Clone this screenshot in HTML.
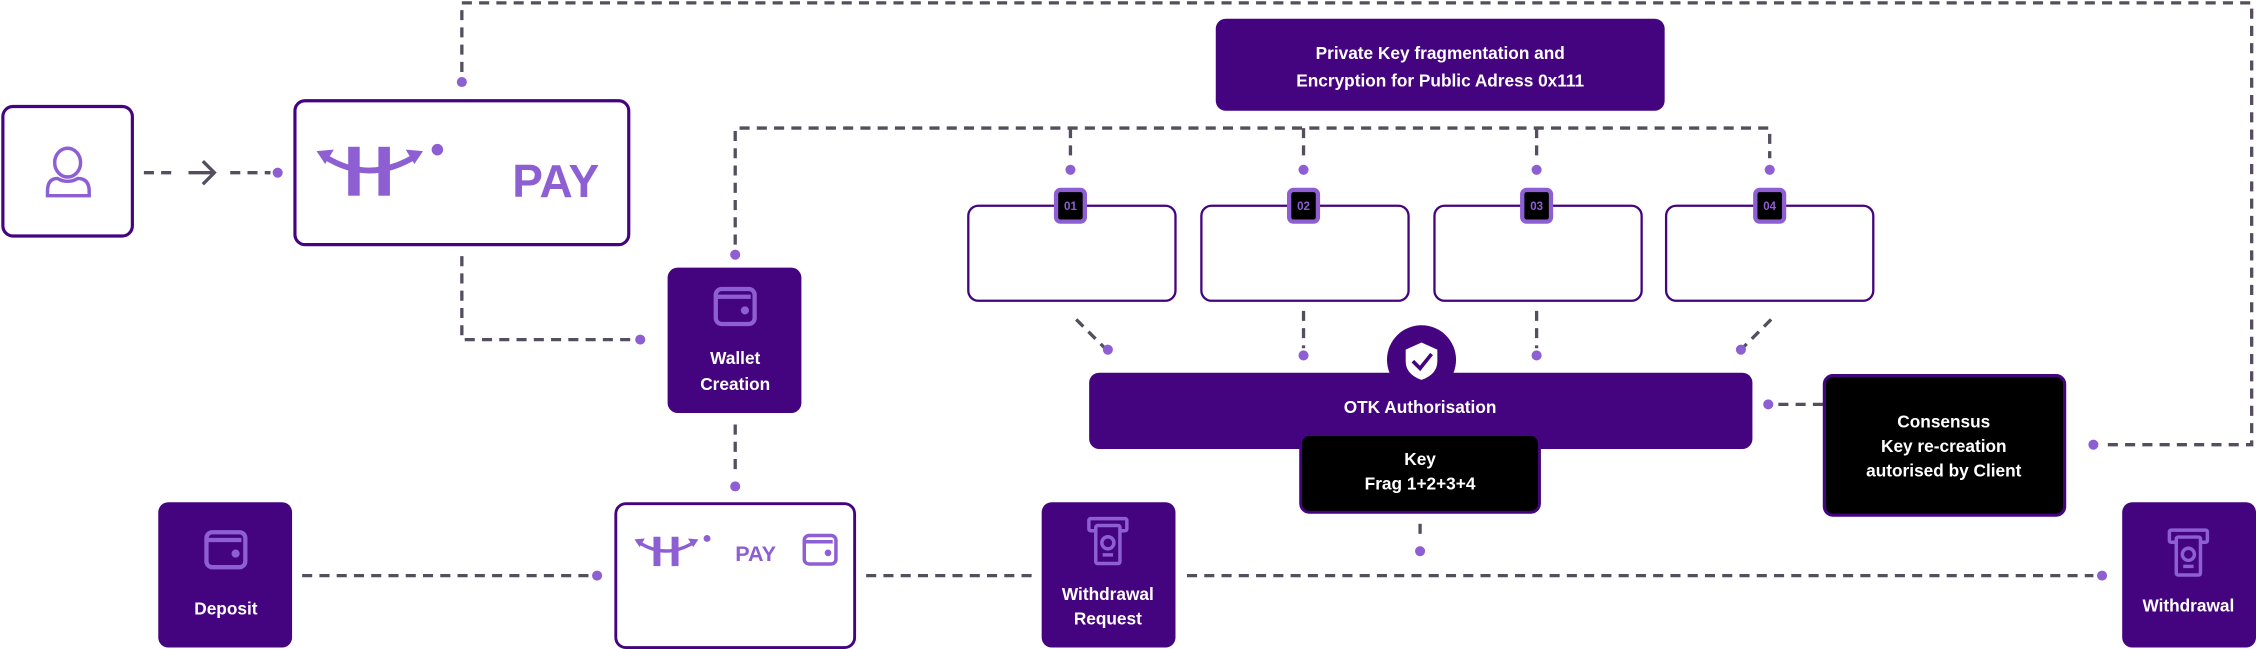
<!DOCTYPE html>
<html><head><meta charset="utf-8">
<style>
html,body{margin:0;padding:0;background:#fff;width:2256px;height:649px;overflow:hidden}
svg{display:block}
text{font-family:"Liberation Sans",sans-serif;font-weight:bold}
</style></head>
<body>
<svg width="2256" height="649" viewBox="0 0 1568 451" preserveAspectRatio="none" xmlns="http://www.w3.org/2000/svg">
<defs>
<g id="logo">
  <rect x="242" y="102" width="8" height="34" fill="#8e5fd3"/>
  <rect x="263" y="102" width="8" height="34" fill="#8e5fd3"/>
  <path d="M226,109 Q256,128 288,109" fill="none" stroke="#8e5fd3" stroke-width="4"/>
  <path d="M220,105 L232,104 L226,114 Z" fill="#8e5fd3"/>
  <path d="M294,105 L282,104 L288,114 Z" fill="#8e5fd3"/>
  <circle cx="304" cy="104" r="4" fill="#8e5fd3"/>
</g>
<g id="wallet" fill="none" stroke="#8e5fd3" stroke-width="2.2">
  <rect x="-10" y="-9" width="20" height="18" rx="3"/>
  <path d="M-9,-5 H8"/>
  <circle cx="5" cy="2" r="1" fill="#8e5fd3"/>
</g>
<g id="atm" fill="none" stroke="#8e5fd3" stroke-width="2">
  <rect x="-11" y="-13" width="22" height="7" rx="1"/>
  <rect x="-7" y="-9" width="14" height="22" rx="1" fill="#45047f"/>
  <circle cx="0" cy="1" r="3.5"/>
  <path d="M-3,8 H3"/>
</g>
</defs>

<!-- dashed connectors -->
<g fill="none" stroke="#544e5e" stroke-width="2.3" stroke-dasharray="7,5">
  <path d="M321,50 V2 H1565 V309 H1460"/>
  <path d="M100,120 H124 M160,120 H188"/>
  <path d="M321,178 V236 H440"/>
  <path d="M511,170 V89 H1230 V110"/>
  <path d="M744,89 V110 M906,89 V110 M1068,89 V110"/>
  <path d="M748,222 L768,242"/>
  <path d="M906,216 V242 M1068,216 V242"/>
  <path d="M1231,222 L1211,242"/>
  <path d="M1236,281 H1268"/>
  <path d="M987,364 V376"/>
  <path d="M511,295 V330"/>
  <path d="M210,400 H410"/>
  <path d="M602,400 H720"/>
  <path d="M825,400 H1455"/>
</g>
<path d="M131,120 H149 M141,112 L149,120 L141,128" fill="none" stroke="#544e5e" stroke-width="2.3"/>
<g fill="#8e5fd3">
  <circle cx="321" cy="57" r="3.5"/><circle cx="193" cy="120" r="3.5"/>
  <circle cx="445" cy="236" r="3.5"/><circle cx="511" cy="177" r="3.5"/>
  <circle cx="744" cy="118" r="3.5"/><circle cx="906" cy="118" r="3.5"/>
  <circle cx="1068" cy="118" r="3.5"/><circle cx="1230" cy="118" r="3.5"/>
  <circle cx="770" cy="243" r="3.5"/><circle cx="906" cy="247" r="3.5"/>
  <circle cx="1068" cy="247" r="3.5"/><circle cx="1210" cy="243" r="3.5"/>
  <circle cx="1229" cy="281" r="3.5"/><circle cx="1455" cy="309" r="3.5"/>
  <circle cx="987" cy="383" r="3.5"/><circle cx="511" cy="338" r="3.5"/>
  <circle cx="415" cy="400" r="3.5"/><circle cx="1461" cy="400" r="3.5"/>
</g>

<!-- user box -->
<rect x="2" y="74" width="90" height="90" rx="7" fill="#fff" stroke="#45047f" stroke-width="2.2"/>
<g fill="none" stroke="#8e5fd3" stroke-width="2.4">
  <ellipse cx="47" cy="113" rx="9" ry="10"/>
  <path d="M40,124 Q47,128 54,124 Q62,124 62,133 V136 H33 V133 Q33,124 40,124 Z"/>
</g>

<!-- HPAY box -->
<rect x="205" y="70" width="232" height="100" rx="7" fill="#fff" stroke="#45047f" stroke-width="2.2"/>
<use href="#logo"/>
<text x="356" y="137" font-size="32" fill="#8e5fd3">PAY</text>

<!-- Wallet creation -->
<rect x="464" y="186" width="93" height="101" rx="7" fill="#45047f"/>
<g transform="translate(511,213) scale(1.35)"><use href="#wallet"/></g>
<text x="511" y="253" font-size="12" fill="#fff" text-anchor="middle">Wallet</text>
<text x="511" y="271" font-size="12" fill="#fff" text-anchor="middle">Creation</text>

<!-- Private key box -->
<rect x="845" y="13" width="312" height="64" rx="7" fill="#45047f"/>
<text x="1001" y="41" font-size="12" fill="#fff" text-anchor="middle">Private Key fragmentation and</text>
<text x="1001" y="60" font-size="12" fill="#fff" text-anchor="middle">Encryption for Public Adress 0x111</text>

<!-- fragment boxes -->
<g fill="#fff" stroke="#45047f" stroke-width="1.6">
  <rect x="673" y="143" width="144" height="66" rx="7"/>
  <rect x="835" y="143" width="144" height="66" rx="7"/>
  <rect x="997" y="143" width="144" height="66" rx="7"/>
  <rect x="1158" y="143" width="144" height="66" rx="7"/>
</g>
<g>
  <rect x="734" y="132" width="20" height="22" rx="3" fill="#000" stroke="#8e5fd3" stroke-width="3"/>
  <rect x="896" y="132" width="20" height="22" rx="3" fill="#000" stroke="#8e5fd3" stroke-width="3"/>
  <rect x="1058" y="132" width="20" height="22" rx="3" fill="#000" stroke="#8e5fd3" stroke-width="3"/>
  <rect x="1220" y="132" width="20" height="22" rx="3" fill="#000" stroke="#8e5fd3" stroke-width="3"/>
  <g font-size="8" fill="#8e5fd3" text-anchor="middle">
    <text x="744" y="146">01</text><text x="906" y="146">02</text>
    <text x="1068" y="146">03</text><text x="1230" y="146">04</text>
  </g>
</g>

<!-- OTK -->
<circle cx="988" cy="250" r="24" fill="#45047f"/>
<rect x="757" y="259" width="461" height="53" rx="7" fill="#45047f"/>
<path d="M988,238 L999,243 V251 Q999,260 988,264 Q977,260 977,251 V243 Z" fill="#fff"/>
<path d="M982,251 L987,256 L995,246" fill="none" stroke="#45047f" stroke-width="2.5"/>
<text x="987" y="287" font-size="12" fill="#fff" text-anchor="middle">OTK Authorisation</text>

<rect x="904" y="302" width="166" height="54" rx="6" fill="#000" stroke="#45047f" stroke-width="2"/>
<text x="987" y="323" font-size="12" fill="#fff" text-anchor="middle">Key</text>
<text x="987" y="340" font-size="12" fill="#fff" text-anchor="middle">Frag 1+2+3+4</text>

<rect x="1268" y="261" width="167" height="97" rx="6" fill="#000" stroke="#45047f" stroke-width="2.2"/>
<text x="1351" y="297" font-size="12" fill="#fff" text-anchor="middle">Consensus</text>
<text x="1351" y="314" font-size="12" fill="#fff" text-anchor="middle">Key re-creation</text>
<text x="1351" y="331" font-size="12" fill="#fff" text-anchor="middle">autorised by Client</text>

<!-- bottom row -->
<rect x="110" y="349" width="93" height="101" rx="7" fill="#45047f"/>
<g transform="translate(157,382) scale(1.35)"><use href="#wallet"/></g>
<text x="157" y="427" font-size="12" fill="#fff" text-anchor="middle">Deposit</text>

<rect x="428" y="350" width="166" height="100" rx="7" fill="#fff" stroke="#45047f" stroke-width="2"/>
<g transform="translate(441,373) scale(0.6) translate(-220,-102)"><use href="#logo"/></g>
<text x="511" y="390" font-size="15" fill="#8e5fd3">PAY</text>
<g transform="translate(570,382) scale(1.1)"><use href="#wallet"/></g>

<rect x="724" y="349" width="93" height="101" rx="7" fill="#45047f"/>
<g transform="translate(770,376) scale(1.2)"><use href="#atm"/></g>
<text x="770" y="417" font-size="12" fill="#fff" text-anchor="middle">Withdrawal</text>
<text x="770" y="434" font-size="12" fill="#fff" text-anchor="middle">Request</text>

<rect x="1475" y="349" width="93" height="101" rx="7" fill="#45047f"/>
<g transform="translate(1521,384) scale(1.2)"><use href="#atm"/></g>
<text x="1521" y="425" font-size="12" fill="#fff" text-anchor="middle">Withdrawal</text>
</svg>
</body></html>
